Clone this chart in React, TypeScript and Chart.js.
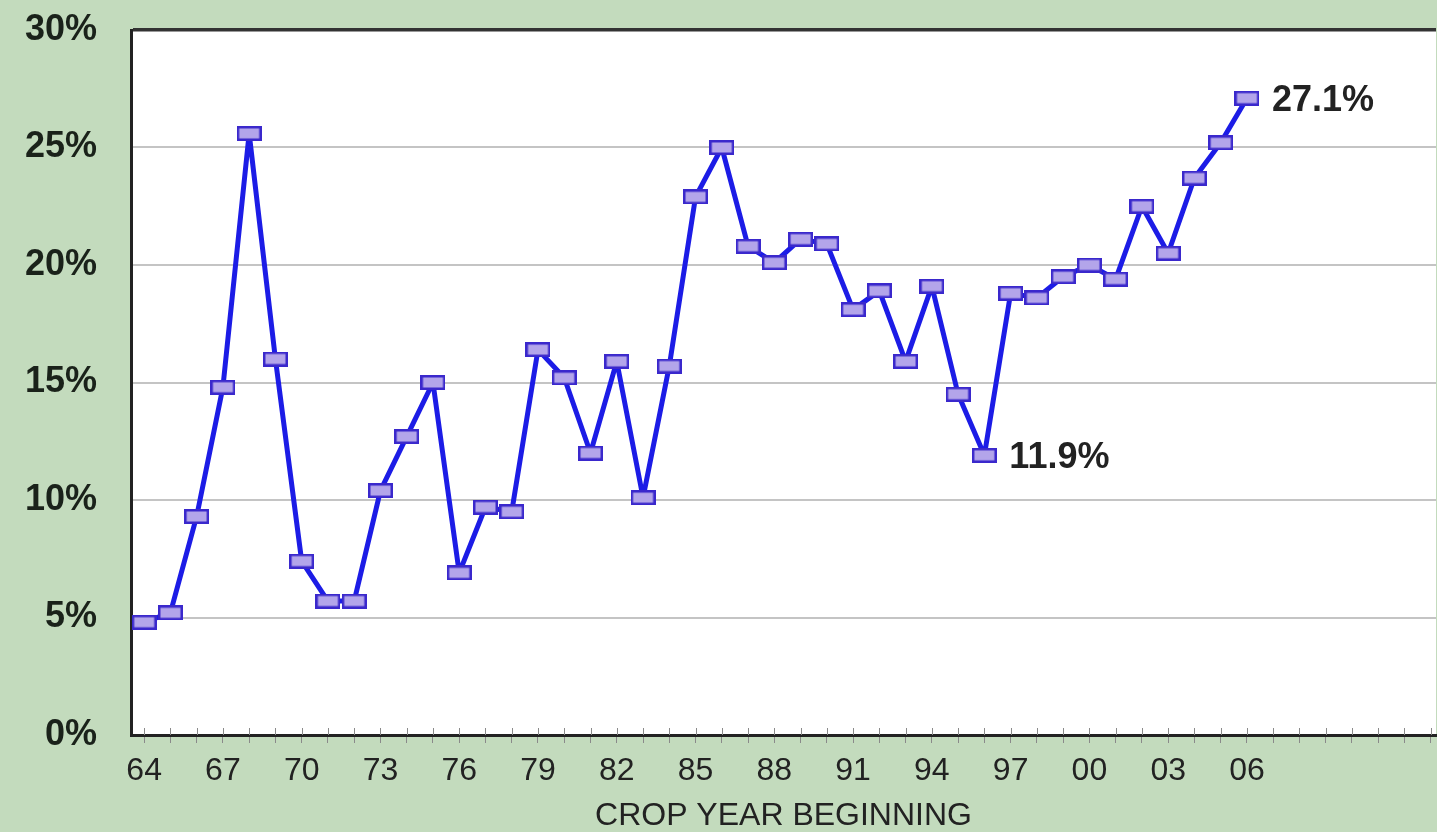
import React, { useEffect, useRef } from 'react';
import { Chart, registerables } from 'chart.js';

Chart.register(...registerables);

// ---- data ----
const years: number[] = [
  1964, 1965, 1966, 1967, 1968, 1969, 1970, 1971, 1972, 1973,
  1974, 1975, 1976, 1977, 1978, 1979, 1980, 1981, 1982, 1983,
  1984, 1985, 1986, 1987, 1988, 1989, 1990, 1991, 1992, 1993,
  1994, 1995, 1996, 1997, 1998, 1999, 2000, 2001, 2002, 2003,
  2004, 2005, 2006,
];
const shares: number[] = [
  4.8, 5.2, 9.3, 14.8, 25.6, 16.0, 7.4, 5.7, 5.7, 10.4,
  12.7, 15.0, 6.9, 9.7, 9.5, 16.4, 15.2, 12.0, 15.9, 10.1,
  15.7, 22.9, 25.0, 20.8, 20.1, 21.1, 20.9, 18.1, 18.9, 15.9,
  19.1, 14.5, 11.9, 18.8, 18.6, 19.5, 20.0, 19.4, 22.5, 20.5,
  23.7, 25.2, 27.1,
];
// minor tick positions (one per year) along the x axis
const tickYears: number[] = [
  1964, 1965, 1966, 1967, 1968, 1969, 1970, 1971, 1972, 1973,
  1974, 1975, 1976, 1977, 1978, 1979, 1980, 1981, 1982, 1983,
  1984, 1985, 1986, 1987, 1988, 1989, 1990, 1991, 1992, 1993,
  1994, 1995, 1996, 1997, 1998, 1999, 2000, 2001, 2002, 2003,
  2004, 2005, 2006, 2007, 2008, 2009, 2010, 2011, 2012, 2013,
];
const labeledYears: number[] = [1964, 1967, 1970, 1973, 1976, 1979, 1982, 1985, 1988, 1991, 1994, 1997, 2000, 2003, 2006];
const xTickLabels: string[] = ['64', '67', '70', '73', '76', '79', '82', '85', '88', '91', '94', '97', '00', '03', '06'];
const yTicks: number[] = [0, 5, 10, 15, 20, 25, 30];
const annotatedYears: number[] = [2006, 1996];
const annotatedTexts: string[] = ['27.1%', '11.9%'];
const xTitle = 'CROP YEAR BEGINNING';

const FONT = '"Liberation Sans", Arial, Helvetica, sans-serif';

export default function App() {
  const canvasRef = useRef<HTMLCanvasElement | null>(null);

  useEffect(() => {
    document.body.style.margin = '0';
    const canvas = canvasRef.current;
    if (!canvas) return;

    // rectangular marker
    const marker = document.createElement('canvas');
    marker.width = 25;
    marker.height = 15;
    const mctx = marker.getContext('2d')!;
    mctx.fillStyle = '#b3a5ea';
    mctx.fillRect(1, 1, 23, 13);
    mctx.strokeStyle = '#3a28cc';
    mctx.lineWidth = 2.5;
    mctx.strokeRect(1.25, 1.25, 22.5, 12.5);

    const extras = {
      id: 'extras',
      beforeDraw(chart: any) {
        const { ctx, chartArea } = chart;
        ctx.save();
        ctx.fillStyle = '#ffffff';
        ctx.fillRect(chartArea.left, chartArea.top, chartArea.right - chartArea.left, chartArea.bottom - chartArea.top);
        ctx.restore();
      },
      beforeDatasetsDraw(chart: any) {
        const { ctx, chartArea } = chart;
        const x = chart.scales.x;
        ctx.save();
        ctx.strokeStyle = '#8a8a8a';
        ctx.lineWidth = 1;
        x.ticks.forEach((t: any) => {
          const px = Math.round(x.getPixelForValue(t.value)) + 0.5;
          ctx.beginPath();
          ctx.moveTo(px, chartArea.bottom);
          ctx.lineTo(px, chartArea.bottom - 7);
          ctx.stroke();
        });
        ctx.restore();
      },
      afterDatasetsDraw(chart: any) {
        const { ctx } = chart;
        const meta = chart.getDatasetMeta(0);
        ctx.save();
        ctx.font = `bold 36px ${FONT}`;
        ctx.fillStyle = '#222222';
        ctx.textAlign = 'left';
        ctx.textBaseline = 'middle';
        annotatedYears.forEach((yr, k) => {
          const i = years.indexOf(yr);
          const el = meta.data[i];
          if (el) ctx.fillText(annotatedTexts[k], el.x + 25, el.y + 3);
        });
        ctx.restore();
      },
    };

    const chart = new Chart(canvas, {
      type: 'line',
      data: {
        datasets: [
          {
            data: years.map((y, i) => ({ x: y, y: shares[i] })),
            borderColor: '#1c1ce6',
            borderWidth: 5,
            borderJoinStyle: 'round',
            borderCapStyle: 'round',
            tension: 0,
            pointStyle: marker as any,
            pointRadius: 0.1,
            pointBorderWidth: 0,
            pointHitRadius: 0,
            fill: false,
          },
        ],
      },
      options: {
        responsive: false,
        animation: false,
        events: [],
        layout: { padding: { top: 30, left: 0, right: 0, bottom: 0 } },
        plugins: { legend: { display: false }, tooltip: { enabled: false } },
        scales: {
          x: {
            type: 'linear',
            min: 1963.5,
            max: 2013.2,
            afterBuildTicks: (scale: any) => {
              scale.ticks = tickYears.map((v) => ({ value: v }));
            },
            afterFit: (scale: any) => {
              scale.height = 97;
              scale.paddingLeft = 0;
              scale.paddingRight = 0;
            },
            ticks: {
              autoSkip: false,
              maxRotation: 0,
              minRotation: 0,
              padding: 9,
              color: '#222222',
              font: { family: FONT, size: 32 },
              callback: (value: any) => {
                const idx = labeledYears.indexOf(Number(value));
                return idx >= 0 ? xTickLabels[idx] : '';
              },
            },
            grid: {
              display: true,
              drawOnChartArea: false,
              drawTicks: true,
              tickLength: 8,
              color: '#8a8a8a',
              lineWidth: 1,
            },
            border: { display: true, color: '#222222', width: 3 },
            title: {
              display: true,
              text: xTitle,
              color: '#222222',
              font: { family: FONT, size: 32, lineHeight: 1 },
              padding: { top: 0, bottom: 0 },
            },
          },
          y: {
            type: 'linear',
            min: 0,
            max: 30,
            afterBuildTicks: (scale: any) => {
              scale.ticks = yTicks.map((v) => ({ value: v }));
            },
            afterFit: (scale: any) => {
              scale.width = 131;
              scale.paddingTop = 0;
              scale.paddingBottom = 0;
            },
            ticks: {
              padding: 34,
              color: '#1a221a',
              font: { family: FONT, size: 36, weight: 'bold' },
              callback: (value: any) => `${value}%`,
            },
            grid: {
              drawTicks: false,
              color: (ctx: any) => (ctx.tick && ctx.tick.value === 30 ? '#333333' : ctx.tick && ctx.tick.value === 0 ? 'rgba(0,0,0,0)' : '#c4c4c4'),
              lineWidth: (ctx: any) => (ctx.tick && ctx.tick.value === 30 ? 3.5 : 2),
            },
            border: { display: true, color: '#222222', width: 3 },
          },
        },
      },
      plugins: [extras],
    } as any);

    return () => chart.destroy();
  }, []);

  return (
    <div style={{ position: 'absolute', left: 0, top: 0, width: 1437, height: 832, background: '#c3dbbd', overflow: 'hidden' }}>
      <canvas ref={canvasRef} width={1440} height={832} style={{ display: 'block' }} />
    </div>
  );
}
